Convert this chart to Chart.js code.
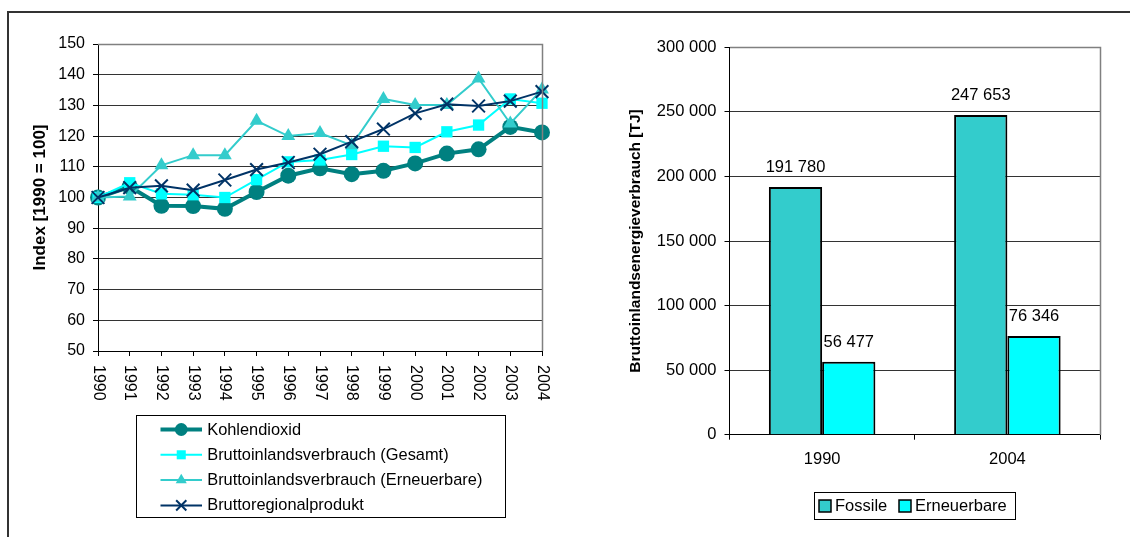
<!DOCTYPE html>
<html>
<head>
<meta charset="utf-8">
<script src="https://cdn.jsdelivr.net/npm/chart.js@4.4.1/dist/chart.umd.min.js"></script>
<style>
  html, body { margin: 0; padding: 0; background: #fff; overflow: hidden; }
  body { width: 1130px; height: 537px; position: relative; }
  #frame { position: absolute; left: 7px; top: 11px; width: 1200px; height: 600px;
           border-top: 2px solid #333; border-left: 2px solid #333; }
  #indexChart { position: absolute; left: 0; top: 0; }
  #energyChart { position: absolute; left: 580px; top: 0; }
</style>
</head>
<body>
<div id="frame"></div>
<canvas id="indexChart" width="570" height="537"></canvas>
<canvas id="energyChart" width="550" height="537"></canvas>
<script>
// ---- Index series, 1990 = 100 ----
const years = ['1990', '1991', '1992', '1993', '1994', '1995', '1996', '1997',
               '1998', '1999', '2000', '2001', '2002', '2003', '2004'];
const kohlendioxid         = [100, 103.5, 97.3, 97.2, 96.3, 101.8, 107.1, 109.5, 107.6, 108.7, 111.1, 114.3, 115.7, 123.0, 121.2];
const verbrauchGesamt      = [100, 104.8, 101.2, 100.9, 100.0, 105.8, 111.6, 112.2, 114.0, 116.7, 116.3, 121.4, 123.6, 132.1, 130.7];
const verbrauchErneuerbare = [100, 100.3, 110.5, 113.8, 113.8, 125.0, 120.0, 121.0, 117.0, 132.1, 130.1, 130.1, 138.8, 124.1, 135.2];
const regionalprodukt      = [100, 103.2, 103.8, 102.4, 105.7, 109.1, 111.4, 114.1, 118.2, 122.3, 127.4, 130.4, 129.8, 131.4, 134.5];
const indexMin = 50, indexMax = 150, indexStep = 10;

// ---- Gross inland energy consumption [TJ] ----
const barYears    = ['1990', '2004'];
const fossile     = [191780, 247653];
const erneuerbare = [56477, 76346];
const energyMin = 0, energyMax = 300000, energyStep = 50000;

const FONT = "'Liberation Sans', Arial, sans-serif";

// thousands separated by a space: 191780 -> "191 780"
function fmt(v) {
  return String(v).replace(/\B(?=(\d{3})+(?!\d))/g, ' ');
}

// Plot area outline on the right side and top edge, in grey
const plotFrame = {
  id: 'plotFrame',
  afterDraw(chart) {
    const { ctx, chartArea: a } = chart;
    ctx.save();
    ctx.strokeStyle = '#808080';
    ctx.lineWidth = 1.5;
    ctx.beginPath();
    ctx.moveTo(Math.round(a.left), Math.round(a.top) + 0.5);
    ctx.lineTo(Math.round(a.right) + 0.5, Math.round(a.top) + 0.5);
    ctx.lineTo(Math.round(a.right) + 0.5, Math.round(a.bottom));
    ctx.stroke();
    ctx.restore();
  }
};

// Year labels turned a quarter clockwise, reading top to bottom
const rotatedYearLabels = {
  id: 'rotatedYearLabels',
  afterDraw(chart) {
    const { ctx } = chart;
    const x = chart.scales.x;
    ctx.save();
    ctx.font = '16px ' + FONT;
    ctx.fillStyle = '#000';
    ctx.textAlign = 'left';
    ctx.textBaseline = 'middle';
    chart.data.labels.forEach((lab, i) => {
      const px = x.getPixelForValue(i);
      ctx.save();
      ctx.translate(px, x.top + 14);
      ctx.rotate(Math.PI / 2);
      ctx.fillText(lab, 0, 0);
      ctx.restore();
    });
    ctx.restore();
  }
};

// Boxed legend below the line chart: one row per series, line + marker + name
const lineLegend = {
  id: 'lineLegend',
  afterDraw(chart) {
    const { ctx, chartArea: a } = chart;
    const w = 369, h = 102, rowGap = 25.3;
    const left = Math.round((a.left + a.right) / 2 - w / 2) + 0.5;
    const top = Math.round(a.bottom + 64) + 0.5;
    ctx.save();
    ctx.strokeStyle = '#000';
    ctx.lineWidth = 1;
    ctx.strokeRect(left, top, w, h);
    chart.data.datasets.forEach((ds, i) => {
      const y = top + 14 + i * rowGap;
      const x0 = left + 24, x1 = left + 65.5, xm = (x0 + x1) / 2;
      ctx.strokeStyle = ds.borderColor;
      ctx.lineWidth = ds.borderWidth;
      ctx.beginPath();
      ctx.moveTo(x0, y);
      ctx.lineTo(x1, y);
      ctx.stroke();
      ctx.fillStyle = ds.pointBackgroundColor;
      ctx.strokeStyle = ds.pointBorderColor;
      ctx.lineWidth = ds.pointBorderWidth;
      Chart.helpers.drawPoint(ctx, {
        pointStyle: ds.pointStyle, rotation: 0,
        radius: ds.pointRadius * 0.8, borderWidth: ds.pointBorderWidth
      }, xm, y);
      ctx.fillStyle = '#000';
      ctx.font = '16.4px ' + FONT;
      ctx.textAlign = 'left';
      ctx.textBaseline = 'middle';
      ctx.fillText(ds.label, left + 70.7, y + 0.5);
    });
    ctx.restore();
  }
};

// Value printed above every bar
const barValueLabels = {
  id: 'barValueLabels',
  afterDatasetsDraw(chart) {
    const { ctx } = chart;
    ctx.save();
    ctx.font = '16.5px ' + FONT;
    ctx.fillStyle = '#000';
    ctx.textAlign = 'center';
    ctx.textBaseline = 'middle';
    chart.data.datasets.forEach((ds, di) => {
      chart.getDatasetMeta(di).data.forEach((el, i) => {
        ctx.fillText(fmt(ds.data[i]), el.x, el.y - 19.5);
      });
    });
    ctx.restore();
  }
};

// Boxed legend below the bar chart, swatches side by side
const barLegend = {
  id: 'barLegend',
  afterDraw(chart) {
    const { ctx, chartArea: a } = chart;
    const w = 201, h = 27;
    const left = Math.round((a.left + a.right) / 2 - w / 2) + 0.5;
    const top = Math.round(a.bottom + 57) + 0.5;
    ctx.save();
    ctx.strokeStyle = '#000';
    ctx.lineWidth = 1;
    ctx.strokeRect(left, top, w, h);
    const cy = top + h / 2;
    const offsets = [4.5, 84.5];
    chart.data.datasets.forEach((ds, i) => {
      const sx = left + offsets[i];
      ctx.fillStyle = ds.backgroundColor;
      ctx.fillRect(sx, cy - 6, 12, 12);
      ctx.strokeStyle = '#000';
      ctx.lineWidth = 1.5;
      ctx.strokeRect(sx, cy - 6, 12, 12);
      ctx.fillStyle = '#000';
      ctx.font = '16.5px ' + FONT;
      ctx.textAlign = 'left';
      ctx.textBaseline = 'middle';
      ctx.fillText(ds.label, sx + 16, cy + 0.5);
    });
    ctx.restore();
  }
};

Chart.defaults.font.family = FONT;
Chart.defaults.color = '#000';

new Chart(document.getElementById('indexChart'), {
  type: 'line',
  data: {
    labels: years,
    datasets: [
      { label: 'Kohlendioxid', data: kohlendioxid, order: 3,
        borderColor: '#008080', borderWidth: 4,
        pointStyle: 'circle', pointRadius: 8,
        pointBackgroundColor: '#008080', pointBorderColor: '#008080', pointBorderWidth: 0 },
      { label: 'Bruttoinlandsverbrauch (Gesamt)', data: verbrauchGesamt, order: 2,
        borderColor: '#00FFFF', borderWidth: 2,
        pointStyle: 'rect', pointRadius: 8,
        pointBackgroundColor: '#00FFFF', pointBorderColor: '#00FFFF', pointBorderWidth: 0 },
      { label: 'Bruttoinlandsverbrauch (Erneuerbare)', data: verbrauchErneuerbare, order: 1,
        borderColor: '#33CCCC', borderWidth: 2,
        pointStyle: 'triangle', pointRadius: 8,
        pointBackgroundColor: '#33CCCC', pointBorderColor: '#33CCCC', pointBorderWidth: 0 },
      { label: 'Bruttoregionalprodukt', data: regionalprodukt, order: 0,
        borderColor: '#003366', borderWidth: 2,
        pointStyle: 'crossRot', pointRadius: 9,
        pointBackgroundColor: '#003366', pointBorderColor: '#003366', pointBorderWidth: 2 }
    ]
  },
  options: {
    responsive: false,
    animation: false,
    events: [],
    layout: { padding: { left: 28, top: 44, right: 28, bottom: 126 } },
    plugins: { legend: { display: false }, tooltip: { enabled: false } },
    scales: {
      x: {
        offset: false,
        grid: { drawOnChartArea: false, drawTicks: true, tickLength: 5, tickColor: '#000' },
        border: { color: '#000', width: 1 },
        ticks: { display: false },
        afterFit(s) { s.height = 60; }
      },
      y: {
        min: indexMin, max: indexMax,
        ticks: { stepSize: indexStep, font: { size: 16 }, color: '#000', padding: 8 },
        grid: { color: '#333', tickColor: '#000', tickLength: 5 },
        border: { color: '#000', width: 1 },
        title: { display: true, text: 'Index [1990 = 100]', color: '#000',
                 font: { size: 17, weight: 'bold' }, padding: { top: 2.5, bottom: 0 } },
        afterFit(s) { s.width = 70; }
      }
    }
  },
  plugins: [plotFrame, rotatedYearLabels, lineLegend]
});

new Chart(document.getElementById('energyChart'), {
  type: 'bar',
  data: {
    labels: barYears,
    datasets: [
      { label: 'Fossile', data: fossile, backgroundColor: '#33CCCC', borderColor: '#000', borderWidth: 2 },
      { label: 'Erneuerbare', data: erneuerbare, backgroundColor: '#00FFFF', borderColor: '#000', borderWidth: 2 }
    ]
  },
  options: {
    responsive: false,
    animation: false,
    events: [],
    datasets: { bar: { categoryPercentage: 0.575, barPercentage: 1 } },
    layout: { padding: { left: 46, top: 47.3, right: 30, bottom: 62.3 } },
    plugins: { legend: { display: false }, tooltip: { enabled: false } },
    scales: {
      x: {
        grid: { offset: true, drawOnChartArea: false, drawTicks: true, tickLength: 5, tickColor: '#000' },
        border: { color: '#000', width: 1 },
        ticks: { font: { size: 16.5 }, color: '#000', padding: 9.7 },
        afterFit(s) { s.height = 40; }
      },
      y: {
        min: energyMin, max: energyMax,
        ticks: { stepSize: energyStep, font: { size: 16.5 }, color: '#000', padding: 8,
                 callback: v => fmt(v) },
        grid: { color: '#333', tickColor: '#000', tickLength: 5 },
        border: { color: '#000', width: 1 },
        title: { display: true, text: 'Bruttoinlandsenergieverbrauch [TJ]', color: '#000',
                 font: { size: 15.5, weight: 'bold' }, padding: { top: 0, bottom: 0 } },
        afterFit(s) { s.width = 103.5; }
      }
    }
  },
  plugins: [plotFrame, barValueLabels, barLegend]
});
</script>
</body>
</html>
